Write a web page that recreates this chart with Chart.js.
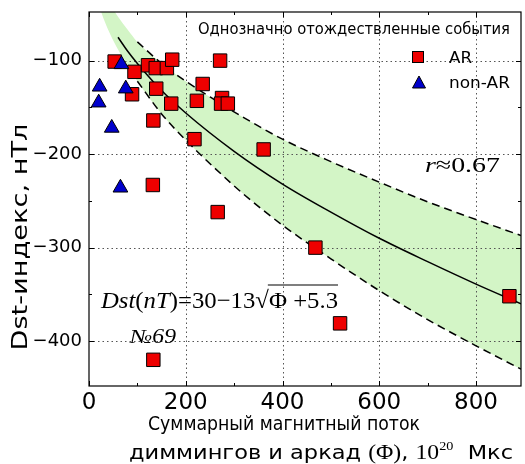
<!DOCTYPE html>
<html>
<head>
<meta charset="utf-8">
<script src="https://cdn.jsdelivr.net/npm/chart.js@4.4.1/dist/chart.umd.min.js"></script>
<style>
  html, body { margin: 0; padding: 0; background: #fff; }
  #wrap { width: 525px; height: 464px; }
</style>
</head>
<body>
<div id="wrap"><canvas id="grafico" width="525" height="464"></canvas></div>
<script>
// точки: AR (красные квадраты) и non-AR (синие треугольники)
const arPhi = [53, 94, 122, 138, 161, 172, 271, 89, 139, 235, 170, 223, 275, 273, 287, 133, 218, 266, 132, 361, 468, 519, 869, 133];
const arDst = [-101, -112, -105, -108, -108, -99, -100, -136, -130, -125, -146, -143, -140, -146, -146, -164, -184, -262, -233, -195, -300, -381, -352, -420];
const nonArPhi = [67, 22, 20, 76, 47, 65];
const nonArDst = [-104, -128, -145, -130, -172, -236];

// линия регрессии
const fitPhi = [60, 80, 100, 150, 200, 300, 400, 500, 600, 700, 800, 893];
const fitDst = [-75, -90, -103, -132, -156, -197, -232, -262, -290, -315, -339, -360];

// пунктирные границы
const dashPhi = [100, 150, 200, 260, 320, 400, 500, 600, 700, 800, 893];
const upperDst = [-80, -103, -122, -142, -161, -184, -208, -230, -251, -270, -287];
const lowerDst = [-122, -157, -185, -215, -243, -276, -312, -346, -377, -405, -430];

// зелёная полоса
const bandPhi = [15, 30, 45, 60, 80, 100, 150, 200, 260, 320, 400, 500, 600, 700, 800, 893];
const bandTop = [-18, -30, -41, -53, -67, -80, -103, -122, -142, -161, -184, -208, -230, -251, -270, -287];
const bandBottom = [-32, -55, -73, -88, -106, -122, -157, -185, -215, -243, -276, -312, -346, -377, -405, -430];

const xTicks = [0, 200, 400, 600, 800];
const xMinor = [100, 300, 500, 700];
const yTicks = [-100, -200, -300, -400];
const yMinor = [-150, -250, -350];

const SANS = '"DejaVu Sans", sans-serif';
const SERIF = '"Liberation Serif", "DejaVu Serif", serif';

const pts = (xs, ys) => xs.map((x, i) => ({ x: x, y: ys[i] }));

// текст из кусков, подогнанный по ширине
function drawRuns(ctx, runs, x, y, width) {
  ctx.save();
  let total = 0;
  runs.forEach(r => { ctx.font = r.font; r.w = ctx.measureText(r.text).width; total += r.w; });
  const s = width ? width / total : 1;
  ctx.translate(x, y);
  ctx.scale(s, 1);
  ctx.fillStyle = '#000';
  ctx.strokeStyle = '#000';
  ctx.textAlign = 'left';
  ctx.textBaseline = 'alphabetic';
  let cx = 0;
  runs.forEach(r => {
    ctx.font = r.font;
    ctx.fillText(r.text, cx, r.dy || 0);
    if (r.over) {
      ctx.lineWidth = 1;
      ctx.beginPath();
      ctx.moveTo(cx - 1, -r.over);
      ctx.lineTo(cx + r.w, -r.over);
      ctx.stroke();
    }
    cx += r.w;
  });
  ctx.restore();
}
const R = (text, font, extra) => Object.assign({ text: text, font: font }, extra || {});

const noPad = s => { s.paddingLeft = 0; s.paddingRight = 0; s.paddingTop = 0; s.paddingBottom = 0; };

const decor = {
  id: 'decor',
  afterDatasetDraw(chart, args) {
    if (args.index !== 5) return;
    // сетка поверх зелёной полосы
    const ctx = chart.ctx, ca = chart.chartArea;
    const sx = chart.scales.x, sy = chart.scales.y;
    ctx.save();
    ctx.strokeStyle = '#555';
    ctx.lineWidth = 1;
    ctx.setLineDash([1.5, 3]);
    xTicks.forEach(v => {
      if (v === 0) return;
      const px = Math.round(sx.getPixelForValue(v)) + 0.5;
      ctx.beginPath(); ctx.moveTo(px, ca.top); ctx.lineTo(px, ca.bottom); ctx.stroke();
    });
    yTicks.forEach(v => {
      const py = Math.round(sy.getPixelForValue(v)) + 0.5;
      ctx.beginPath(); ctx.moveTo(ca.left, py); ctx.lineTo(ca.right, py); ctx.stroke();
    });
    ctx.restore();
  },
  afterDraw(chart) {
    const ctx = chart.ctx, ca = chart.chartArea;
    const sx = chart.scales.x, sy = chart.scales.y;
    ctx.save();
    ctx.strokeStyle = '#000';
    ctx.lineWidth = 1.2;
    ctx.strokeRect(ca.left, ca.top, ca.right - ca.left, ca.bottom - ca.top);
    // засечки внутрь
    ctx.lineWidth = 1;
    const tickX = (v, len) => {
      const px = Math.round(sx.getPixelForValue(v)) + 0.5;
      ctx.beginPath();
      ctx.moveTo(px, ca.bottom); ctx.lineTo(px, ca.bottom - len);
      ctx.moveTo(px, ca.top); ctx.lineTo(px, ca.top + len);
      ctx.stroke();
    };
    const tickY = (v, len) => {
      const py = Math.round(sy.getPixelForValue(v)) + 0.5;
      ctx.beginPath();
      ctx.moveTo(ca.left, py); ctx.lineTo(ca.left + len, py);
      ctx.moveTo(ca.right, py); ctx.lineTo(ca.right - len, py);
      ctx.stroke();
    };
    xTicks.forEach(v => tickX(v, 5));
    xMinor.forEach(v => tickX(v, 3));
    yTicks.forEach(v => tickY(v, 5));
    yMinor.forEach(v => tickY(v, 3));

    // легенда
    ctx.fillStyle = '#ee0000';
    ctx.fillRect(412.5, 51.5, 11, 11);
    ctx.strokeRect(412.5, 51.5, 11, 11);
    ctx.fillStyle = '#0000cc';
    ctx.beginPath();
    ctx.moveTo(419, 76); ctx.lineTo(425.5, 88); ctx.lineTo(412.5, 88); ctx.closePath();
    ctx.fill(); ctx.stroke();
    ctx.restore();

    drawRuns(ctx, [R('Однозначно отождествленные события', '16px ' + SANS)], 198, 34, 312);
    drawRuns(ctx, [R('AR', '16px ' + SANS)], 449, 63, 23);
    drawRuns(ctx, [R('non-AR', '16px ' + SANS)], 449, 88, 61);

    drawRuns(ctx, [R('r', 'italic 22px ' + SERIF), R('≈', '22px ' + SERIF), R('0.67', '22px ' + SERIF)], 425, 172, 75);

    drawRuns(ctx, [
      R('Dst', 'italic 24px ' + SERIF), R('(', '24px ' + SERIF), R('nT', 'italic 24px ' + SERIF),
      R(')=30−13', '24px ' + SERIF), R('√', '24px ' + SERIF), R('Φ +5.3', '24px ' + SERIF, { over: 23 })
    ], 101, 308, 237);
    drawRuns(ctx, [R('№69', 'italic 20px ' + SERIF)], 130, 343, 46);

    // подписи осей
    drawRuns(ctx, [R('Суммарный магнитный поток', '19px ' + SANS)], 284 - 136, 430, 272);
    drawRuns(ctx, [
      R('диммингов и аркад ', '19px ' + SANS), R('(Φ)', '20px ' + SERIF), R(', ', '19px ' + SANS),
      R('10', '20px ' + SERIF), R('20', '12px ' + SERIF, { dy: -9 }), R('  Мкс', '19px ' + SANS)
    ], 321 - 192, 459, 384);

    ctx.save();
    ctx.translate(27, 237);
    ctx.rotate(-Math.PI / 2);
    ctx.font = '21px ' + SANS;
    const yt = 'Dst-индекс, нТл';
    const w = ctx.measureText(yt).width;
    ctx.scale(227 / w, 1);
    ctx.fillStyle = '#000';
    ctx.textBaseline = 'alphabetic';
    ctx.fillText(yt, -w / 2, 0);
    ctx.restore();
  }
};

const grafico = document.getElementById('grafico');

new Chart(grafico, {
  type: 'line',
  data: {
    datasets: [
      {
        label: 'non-AR',
        data: pts(nonArPhi, nonArDst),
        showLine: false,
        pointStyle: 'triangle',
        pointRadius: 8.5,
        pointBackgroundColor: '#0000cc',
        pointBorderColor: '#000',
        pointBorderWidth: 1
      },
      {
        label: 'AR',
        data: pts(arPhi, arDst),
        showLine: false,
        pointStyle: 'rect',
        pointRadius: 9.5,
        pointBackgroundColor: '#ee0000',
        pointBorderColor: '#000',
        pointBorderWidth: 1
      },
      {
        label: 'fit',
        data: pts(fitPhi, fitDst),
        borderColor: '#000',
        borderWidth: 1.5,
        pointRadius: 0,
        fill: false,
        cubicInterpolationMode: 'monotone'
      },
      {
        label: 'upper',
        data: pts(dashPhi, upperDst),
        borderColor: '#000',
        borderWidth: 1.5,
        borderDash: [8, 5],
        pointRadius: 0,
        fill: false,
        cubicInterpolationMode: 'monotone'
      },
      {
        label: 'lower',
        data: pts(dashPhi, lowerDst),
        borderColor: '#000',
        borderWidth: 1.5,
        borderDash: [8, 5],
        pointRadius: 0,
        fill: false,
        cubicInterpolationMode: 'monotone'
      },
      {
        label: 'bandTop',
        data: pts(bandPhi, bandTop),
        borderColor: 'rgba(0,0,0,0)',
        borderWidth: 1,
        pointRadius: 0,
        fill: '+1',
        backgroundColor: '#d3f5c6',
        cubicInterpolationMode: 'monotone'
      },
      {
        label: 'bandBottom',
        data: pts(bandPhi, bandBottom),
        borderColor: 'rgba(0,0,0,0)',
        borderWidth: 1,
        pointRadius: 0,
        fill: false,
        cubicInterpolationMode: 'monotone'
      }
    ]
  },
  options: {
    responsive: false,
    devicePixelRatio: 1,
    animation: false,
    layout: { autoPadding: false, padding: { top: 12, right: 4, left: 0, bottom: 0 } },
    plugins: {
      legend: { display: false },
      tooltip: { enabled: false }
    },
    scales: {
      x: {
        type: 'linear',
        min: 0,
        max: 893,
        grid: { display: false, drawTicks: false },
        border: { display: false },
        afterBuildTicks: s => { s.ticks = xTicks.map(v => ({ value: v })); },
        afterFit: s => { s.height = 78; noPad(s); },
        ticks: {
          font: { family: SANS, size: 23 },
          color: '#000',
          padding: 3,
          maxRotation: 0,
          autoSkip: false
        }
      },
      y: {
        type: 'linear',
        min: -448,
        max: -48,
        grid: { display: false, drawTicks: false },
        border: { display: false },
        afterBuildTicks: s => { s.ticks = yTicks.map(v => ({ value: v })); },
        afterFit: s => { s.width = 89; noPad(s); },
        ticks: {
          font: { family: SANS, size: 18 },
          color: '#000',
          padding: 7,
          callback: v => String(v).replace('-', '\u2212')
        }
      }
    }
  },
  plugins: [decor]
});
</script>
</body>
</html>
